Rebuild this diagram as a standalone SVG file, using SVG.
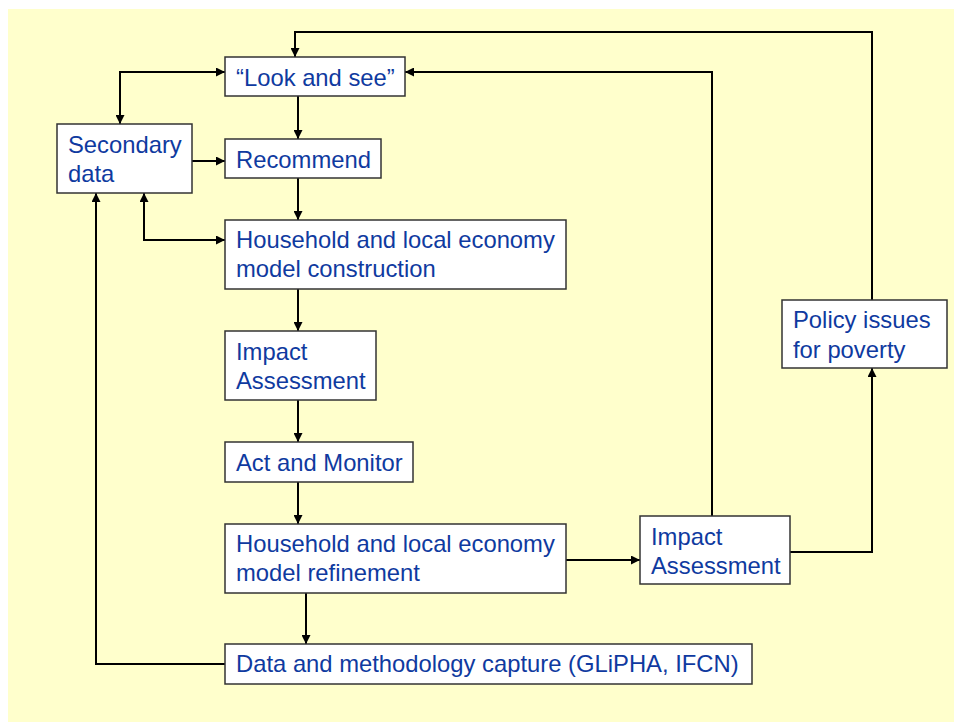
<svg xmlns="http://www.w3.org/2000/svg" width="954" height="722" viewBox="0 0 954 722">
  <style>
    .box { fill: #ffffff; stroke: #333333; stroke-width: 1.5; }
    .lbl { font-family: "Liberation Sans", Arial, sans-serif; font-size: 23.8px; fill: #0f3aa0; }
    .wire { fill: none; stroke: #000000; stroke-width: 2; }
  </style>
  <defs>
    <marker id="arr" viewBox="0 0 10 10" refX="10" refY="5" markerWidth="9" markerHeight="9" markerUnits="userSpaceOnUse" orient="auto-start-reverse">
      <path d="M0,0 L10,5 L0,10 Z" fill="#000000"/>
    </marker>
  </defs>

  <!-- page background -->
  <rect x="0" y="0" width="954" height="722" fill="#ffffff"/>
  <rect x="8" y="9" width="946" height="713" fill="#ffffcc"/>

  <!-- connectors -->
  <g id="connectors" class="wire">
    <!-- policy feedback loop to "Look and see" -->
    <polyline points="872,300 872,32 295,32 295,57" marker-end="url(#arr)"/>
    <!-- second impact assessment back to "Look and see" -->
    <polyline points="712,516 712,72 405,72" marker-end="url(#arr)"/>
    <!-- secondary data <-> look and see -->
    <polyline points="120,124 120,72 225,72" marker-start="url(#arr)" marker-end="url(#arr)"/>
    <!-- main vertical chain -->
    <line x1="298" y1="96" x2="298" y2="139" marker-end="url(#arr)"/>
    <line x1="192" y1="161" x2="225" y2="161" marker-end="url(#arr)"/>
    <line x1="298" y1="178" x2="298" y2="220" marker-end="url(#arr)"/>
    <polyline points="144,193 144,240 225,240" marker-start="url(#arr)" marker-end="url(#arr)"/>
    <line x1="298" y1="289" x2="298" y2="331" marker-end="url(#arr)"/>
    <line x1="298" y1="400" x2="298" y2="442" marker-end="url(#arr)"/>
    <line x1="298" y1="482" x2="298" y2="524" marker-end="url(#arr)"/>
    <line x1="306" y1="593" x2="306" y2="644" marker-end="url(#arr)"/>
    <!-- data capture back to secondary data -->
    <polyline points="225,664 96,664 96,193" marker-end="url(#arr)"/>
    <!-- refinement to second impact assessment -->
    <line x1="566" y1="560" x2="640" y2="560" marker-end="url(#arr)"/>
    <!-- impact assessment to policy issues -->
    <polyline points="790,552 872,552 872,368" marker-end="url(#arr)"/>
  </g>

  <!-- nodes -->
  <g id="look-and-see">
    <rect class="box" x="225" y="57" width="180" height="39"/>
    <text class="lbl" x="236" y="86">“Look and see”</text>
  </g>
  <g id="secondary-data">
    <rect class="box" x="57" y="124" width="135" height="69"/>
    <text class="lbl" x="68" y="153">Secondary</text>
    <text class="lbl" x="68" y="182">data</text>
  </g>
  <g id="recommend">
    <rect class="box" x="225" y="139" width="156" height="39"/>
    <text class="lbl" x="236" y="168">Recommend</text>
  </g>
  <g id="model-construction">
    <rect class="box" x="225" y="220" width="341" height="69"/>
    <text class="lbl" x="236" y="248">Household and local economy</text>
    <text class="lbl" x="236" y="277">model construction</text>
  </g>
  <g id="impact-assessment-1">
    <rect class="box" x="225" y="331" width="151" height="69"/>
    <text class="lbl" x="236" y="360">Impact</text>
    <text class="lbl" x="236" y="389">Assessment</text>
  </g>
  <g id="act-and-monitor">
    <rect class="box" x="225" y="442" width="188" height="40"/>
    <text class="lbl" x="236" y="471">Act and Monitor</text>
  </g>
  <g id="model-refinement">
    <rect class="box" x="225" y="524" width="341" height="69"/>
    <text class="lbl" x="236" y="552">Household and local economy</text>
    <text class="lbl" x="236" y="581">model refinement</text>
  </g>
  <g id="data-capture">
    <rect class="box" x="225" y="644" width="527" height="40"/>
    <text class="lbl" x="236" y="672">Data and methodology capture (GLiPHA, IFCN)</text>
  </g>
  <g id="impact-assessment-2">
    <rect class="box" x="640" y="516" width="150" height="68"/>
    <text class="lbl" x="651" y="545">Impact</text>
    <text class="lbl" x="651" y="574">Assessment</text>
  </g>
  <g id="policy-issues">
    <rect class="box" x="782" y="300" width="165" height="68"/>
    <text class="lbl" x="793" y="328">Policy issues</text>
    <text class="lbl" x="793" y="358">for poverty</text>
  </g>
</svg>
